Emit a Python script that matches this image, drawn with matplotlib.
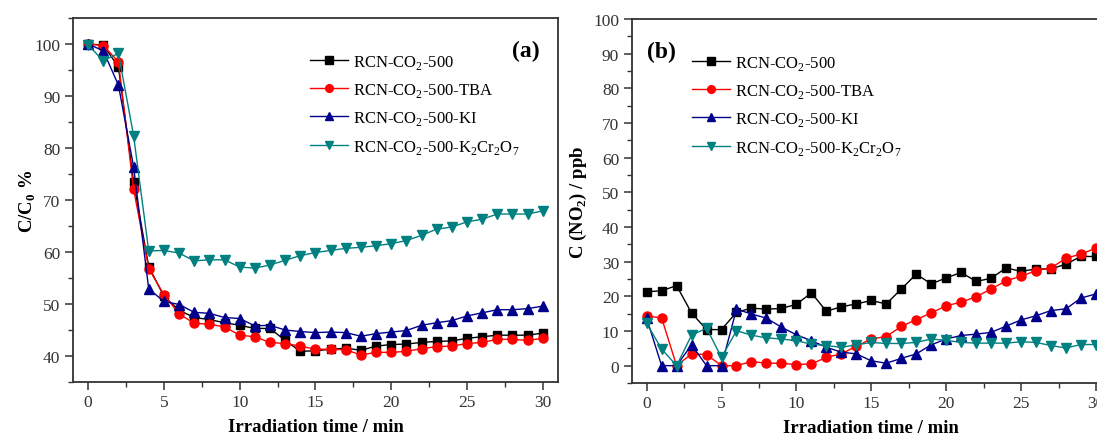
import numpy as np
import matplotlib
matplotlib.use('Agg')
from matplotlib import pyplot as plt
from matplotlib.ticker import MultipleLocator

plt.rcParams['font.family'] = ['Liberation Serif', 'DejaVu Serif']
plt.rcParams['mathtext.fontset'] = 'custom'
plt.rcParams['mathtext.rm'] = 'Liberation Serif'
plt.rcParams['mathtext.bf'] = 'Liberation Serif:bold'

# irradiation time, min
t = np.arange(0, 31)

# (a) C/C0 %
a_black = [100, 99.8, 95.6, 73.5, 57.2, 51.5, 48.8, 47.4, 47.0, 46.4, 45.9, 45.3, 45.3, 43.0, 40.9, 41.0,
           41.3, 41.5, 41.1, 41.9, 42.2, 42.3, 42.6, 42.8, 42.9, 43.4, 43.7, 44.0, 44.0, 44.0, 44.4]
a_red = [100, 99.7, 96.6, 72.1, 56.8, 51.8, 48.1, 46.3, 46.1, 45.6, 44.0, 43.7, 42.6, 42.4, 41.9, 41.3,
         41.3, 41.2, 40.2, 40.7, 40.7, 40.9, 41.4, 41.8, 41.9, 42.4, 42.6, 43.2, 43.2, 43.0, 43.4]
a_blue = [100, 98.7, 92.1, 76.4, 52.9, 50.5, 49.9, 48.4, 48.2, 47.4, 47.2, 45.8, 45.9, 45.0, 44.7, 44.5,
          44.6, 44.5, 43.8, 44.3, 44.6, 44.9, 45.9, 46.4, 46.8, 47.7, 48.3, 48.9, 48.9, 49.1, 49.6]
a_teal = [99.8, 96.8, 98.2, 82.4, 60.2, 60.3, 59.8, 58.3, 58.5, 58.5, 57.1, 56.9, 57.5, 58.4, 59.3, 59.9,
          60.3, 60.7, 60.9, 61.2, 61.6, 62.2, 63.2, 64.4, 64.8, 65.8, 66.3, 67.3, 67.3, 67.3, 67.9]

# (b) C(NO2) / ppb
b_black = [21.3, 21.6, 23.1, 15.2, 10.4, 10.4, 15.4, 16.6, 16.3, 16.5, 17.7, 21.0, 15.7, 17.0, 17.8, 18.8,
           17.8, 22.1, 26.4, 23.6, 25.3, 26.9, 24.3, 25.2, 28.2, 27.2, 27.9, 27.9, 29.3, 31.5, 31.5]
b_red = [14.3, 13.8, 0, 3.4, 3.2, 0, 0, 1.2, 0.7, 0.7, 0.3, 0.5, 2.4, 3.4, 5.6, 7.7,
         8.4, 11.3, 13.3, 15.2, 17.3, 18.3, 19.9, 22.1, 24.5, 25.8, 27.4, 28.2, 31.0, 32.2, 33.9]
b_blue = [13.7, 0, 0, 6.0, 0, 0, 16.3, 14.9, 13.7, 11.1, 8.9, 7.2, 5.3, 3.9, 3.4, 1.4,
          0.7, 2.1, 3.4, 6.0, 7.7, 8.7, 9.1, 9.6, 11.4, 13.2, 14.4, 15.9, 16.4, 19.5, 20.7]
b_teal = [12.2, 4.8, 0, 8.8, 10.8, 2.4, 10.1, 8.8, 8.0, 7.7, 7.2, 6.2, 5.8, 5.3, 6.0, 6.7,
          6.4, 6.4, 6.7, 7.7, 7.3, 6.7, 6.5, 6.5, 6.5, 6.9, 6.7, 5.8, 5.1, 6.1, 6.1]

labels = [r'RCN-CO$_\mathregular{2}$-500',
          r'RCN-CO$_\mathregular{2}$-500-TBA',
          r'RCN-CO$_\mathregular{2}$-500-KI',
          r'RCN-CO$_\mathregular{2}$-500-K$_\mathregular{2}$Cr$_\mathregular{2}$O$_\mathregular{7}$']
colors = ['#000000', '#ff0000', '#00008b', '#008080']
markers = ['s', 'o', '^', 'v']
msizes = [6, 6.5, 7, 7]

fig = plt.figure(figsize=(10.97, 4.39), dpi=100)
ax1 = fig.add_axes([0.0665, 0.1276, 0.4421, 0.8291])
ax2 = fig.add_axes([0.5758, 0.1253, 0.4369, 0.8291])

grey = '#333333'


def style(ax):
    for s in ax.spines.values():
        s.set_linewidth(1.3)
        s.set_color(grey)
    ax.tick_params(which='both', direction='out', top=False, right=False, colors=grey,
                   labelsize=12.5, labelcolor='#333333')
    ax.tick_params(which='major', length=6, width=1.1, pad=3)
    ax.tick_params(which='minor', length=3.5, width=1.0)
    ax.xaxis.set_major_locator(MultipleLocator(5))
    ax.xaxis.set_minor_locator(MultipleLocator(2.5))
    ax.yaxis.set_major_locator(MultipleLocator(10))
    ax.yaxis.set_minor_locator(MultipleLocator(5))
    ax.set_xlim(-1, 31)
    ax.set_xlabel('Irradiation time / min', fontsize=13.5, fontweight='bold')
    ax.xaxis.set_label_coords(0.5, -0.098)


for y, c, m, ms, lab in zip([a_black, a_red, a_blue, a_teal], colors, markers, msizes, labels):
    ax1.plot(t, y, color=c, marker=m, ms=ms, lw=1, label=lab)
for y, c, m, ms, lab in zip([b_black, b_red, b_blue, b_teal], colors, markers, msizes, labels):
    ax2.plot(t, y, color=c, marker=m, ms=ms, lw=1, label=lab)

style(ax1)
style(ax2)
ax1.set_ylim(35, 105)
ax2.set_ylim(-5, 100)

ax1.set_ylabel(r'C/C$_\mathregular{0}$ %', fontsize=13.5, fontweight='bold')
ax1.yaxis.set_label_coords(-0.072, 0.5)
ax2.set_ylabel(r'C (NO$_\mathregular{2}$) / ppb', fontsize=13.5, fontweight='bold')
ax2.yaxis.set_label_coords(-0.09, 0.5)

ax1.text(0.933, 0.91, '(a)', transform=ax1.transAxes, fontsize=17, fontweight='bold',
         ha='center', va='center')
ax2.text(0.063, 0.91, '(b)', transform=ax2.transAxes, fontsize=17, fontweight='bold',
         ha='center', va='center')

for ax, x0 in [(ax1, 0.489), (ax2, 0.126)]:
    ax.legend(loc='upper left', bbox_to_anchor=(x0, 0.905), frameon=False, fontsize=12,
              borderpad=0, borderaxespad=0, handlelength=2.3, handletextpad=0.3,
              labelspacing=0.62, markerscale=0.85)

fig.savefig('out.png', dpi=100)
